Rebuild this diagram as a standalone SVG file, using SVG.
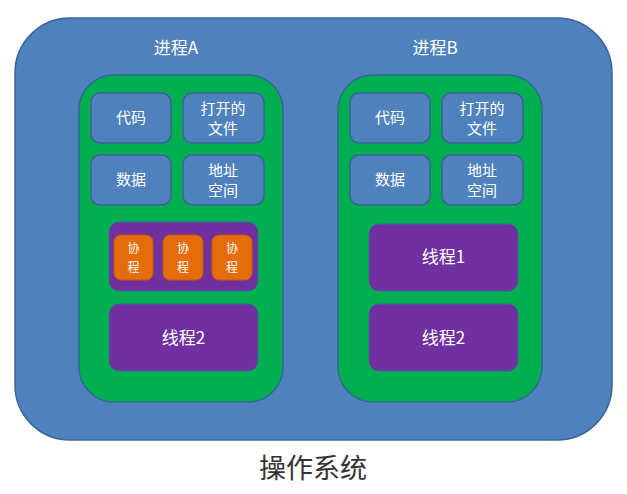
<svg xmlns="http://www.w3.org/2000/svg" width="627" height="494" viewBox="0 0 627 494">
<style>
.os{fill:#4f81bd;stroke:#3a6496;stroke-width:1.5}
.pr{fill:#00b050;stroke:#2f6b8f;stroke-width:1.5}
.bx{fill:#4f81bd;stroke:#3a6496;stroke-width:1.5}
.th{fill:#7030a0;stroke:#3a6496;stroke-width:1}
.co{fill:#e46c0a;stroke:#c55a00;stroke-width:1}
text{font-family:"Noto Sans CJK SC","Noto Sans",sans-serif;fill:#fff;text-anchor:middle}
.t{font-size:15px}
.big{font-size:17px}
.c{font-size:12px}
.ttl{font-size:27px;fill:#333;font-family:"Noto Sans CJK SC",sans-serif}
</style>
<rect width="627" height="494" fill="#fff"/>
<g id="os"><rect class="os" x="15" y="18" width="597" height="422" rx="55"/></g>
<g id="processA">
<text class="big" x="176" y="54">进程A</text>
<rect class="pr" x="79" y="75" width="204" height="327" rx="35"/>
<rect class="bx" x="91" y="93" width="80" height="50" rx="9"/><text class="t" x="131" y="123">代码</text>
<rect class="bx" x="183" y="93" width="81" height="50" rx="9"/><text class="t" x="223" y="114">打开的</text><text class="t" x="223" y="134">文件</text>
<rect class="bx" x="91" y="155" width="80" height="50" rx="9"/><text class="t" x="131" y="185">数据</text>
<rect class="bx" x="183" y="155" width="81" height="50" rx="9"/><text class="t" x="223" y="176">地址</text><text class="t" x="223" y="196">空间</text>
<rect class="th" x="109" y="222" width="149" height="69" rx="10"/>
<rect class="co" x="114" y="235" width="39" height="45" rx="7"/><text class="c" x="133.5" y="253">协</text><text class="c" x="133.5" y="272">程</text>
<rect class="co" x="163" y="235" width="40" height="45" rx="7"/><text class="c" x="183" y="253">协</text><text class="c" x="183" y="272">程</text>
<rect class="co" x="212" y="235" width="40" height="45" rx="7"/><text class="c" x="232" y="253">协</text><text class="c" x="232" y="272">程</text>
<rect class="th" x="109" y="304" width="149" height="67" rx="10"/><text class="big" x="183.5" y="344">线程2</text>
</g>
<g id="processB">
<text class="big" x="435" y="54">进程B</text>
<rect class="pr" x="338" y="75" width="204" height="327" rx="35"/>
<rect class="bx" x="350" y="93" width="80" height="50" rx="9"/><text class="t" x="390" y="123">代码</text>
<rect class="bx" x="442" y="93" width="81" height="50" rx="9"/><text class="t" x="482" y="114">打开的</text><text class="t" x="482" y="134">文件</text>
<rect class="bx" x="350" y="155" width="80" height="50" rx="9"/><text class="t" x="390" y="185">数据</text>
<rect class="bx" x="442" y="155" width="81" height="50" rx="9"/><text class="t" x="482" y="176">地址</text><text class="t" x="482" y="196">空间</text>
<rect class="th" x="369" y="224" width="149" height="67" rx="10"/><text class="big" x="443.5" y="263">线程1</text>
<rect class="th" x="369" y="304" width="149" height="67" rx="10"/><text class="big" x="443.5" y="344">线程2</text>
</g>
<g id="connectors"/>
<text class="ttl" x="313" y="478">操作系统</text>
</svg>
